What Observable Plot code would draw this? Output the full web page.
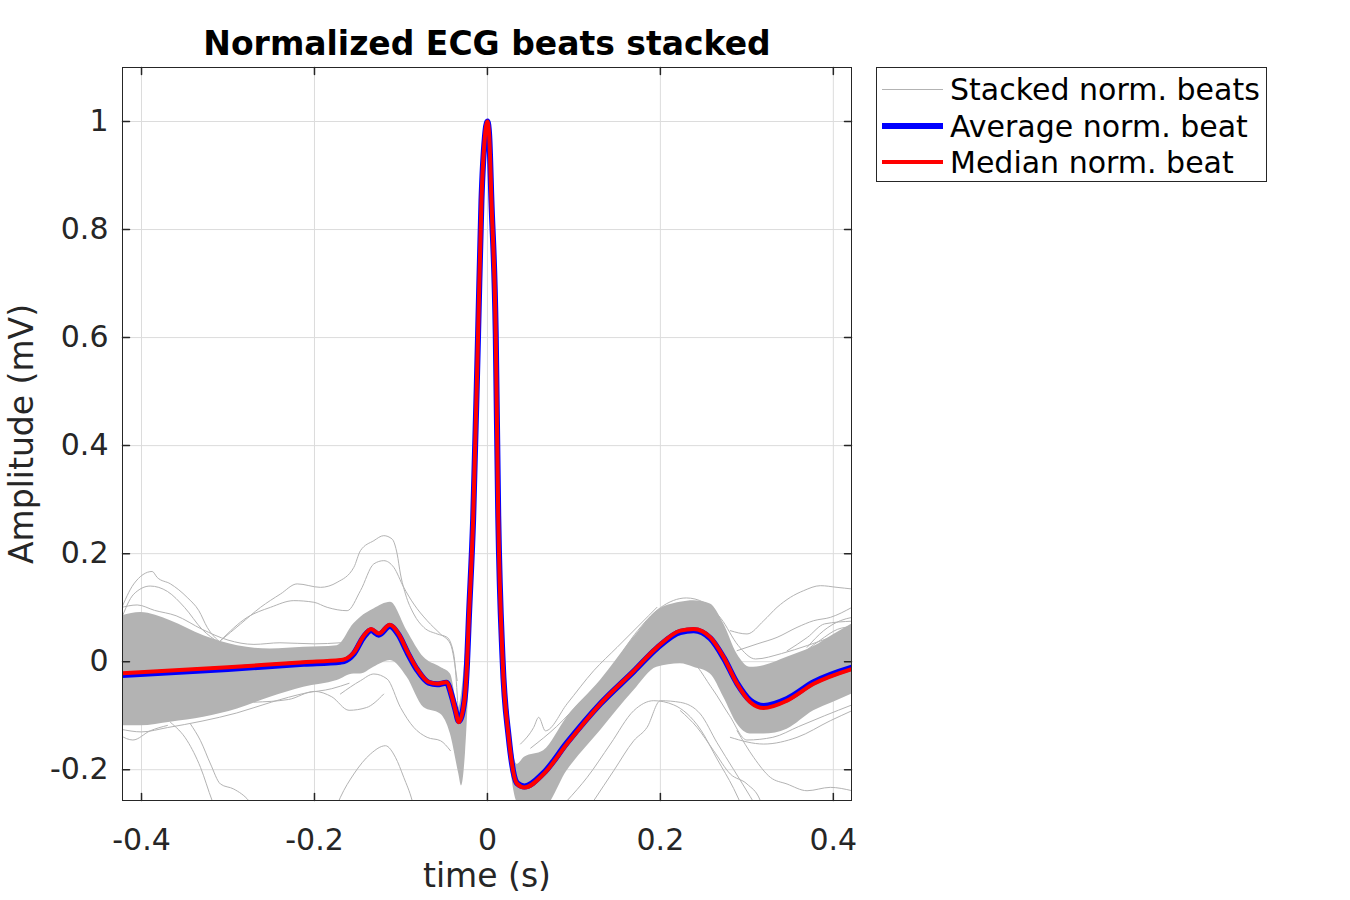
<!DOCTYPE html>
<html>
<head>
<meta charset="utf-8">
<script src="https://cdn.jsdelivr.net/npm/d3@7"></script>
<script src="https://cdn.jsdelivr.net/npm/@observablehq/plot@0.6"></script>
<style>
  body { margin: 0; background: white; }
  #wrap { position: relative; width: 1350px; height: 900px; font-family: "DejaVu Sans", sans-serif; }
  #title { position: absolute; left: 0; width: 974px; top: 27px; text-align: center; font-weight: bold; font-size: 33px; line-height: 33px; color: #000; }
  #legend { position: absolute; left: 876px; top: 67px; width: 389px; height: 113px; border: 1px solid #262626; background: white; }
  .row { position: absolute; left: 0; height: 36px; display: flex; align-items: center; font-size: 30px; color: #000; white-space: nowrap; }
  .sample { display: inline-block; width: 61px; margin-left: 5px; margin-right: 7px; }
  #chart { position: absolute; left: 0; top: 0; }
</style>
</head>
<body>
<div id="wrap">
  <div id="chart"></div>
  <div id="title">Normalized ECG beats stacked</div>
  <div id="legend"></div>
</div>
<script>
// ---- Data ----
const titleText = "Normalized ECG beats stacked";
const xLabel = "time (s)";
const yLabel = "Amplitude (mV)";
const xTicks = [-0.4, -0.2, 0, 0.2, 0.4];
const yTicks = [-0.2, 0, 0.2, 0.4, 0.6, 0.8, 1];

const seriesNames = ["Stacked norm. beats", "Average norm. beat", "Median norm. beat"];
const seriesColors = ["#b3b3b3", "#0000ff", "#ff0000"];

// main beat time samples (s)
const beatT = [-0.422, -0.3, -0.2124, -0.17, -0.166, -0.1545, -0.143, -0.1345, -0.1257, -0.1129, -0.1025,
  -0.0929, -0.0813, -0.0679, -0.0582, -0.0474, -0.0408, -0.037, -0.0331, -0.0266, -0.0235, -0.0216, -0.0165,
  -0.0108, -0.0069, -0.003, 0, 0.002, 0.0046, 0.0096, 0.0125, 0.0175, 0.0246, 0.0343, 0.0428, 0.065, 0.0921,
  0.1306, 0.1692, 0.196, 0.2231, 0.2385, 0.2578, 0.2732, 0.2887, 0.304, 0.3195, 0.3465, 0.3773, 0.4216];
// median normalized beat (mV)
const medianV = [-0.0216, -0.0105, -0.001, 0.003, 0.004, 0.017, 0.048, 0.0605, 0.052, 0.0685, 0.051,
  0.02, -0.0136, -0.038, -0.041, -0.038, -0.066, -0.09, -0.112, -0.072, 0.0, 0.076, 0.265,
  0.607, 0.854, 0.97, 1.0, 0.975, 0.854, 0.607, 0.27, 0.005, -0.14, -0.226, -0.233, -0.208, -0.152,
  -0.078, -0.017, 0.0265, 0.0574, 0.0605, 0.045, 0.008, -0.041, -0.075, -0.0858, -0.072, -0.041, -0.0136];
// average normalized beat (mV)
const meanV = [-0.0245, -0.0135, -0.004, 0.0, 0.001, 0.015, 0.046, 0.058, 0.05, 0.066, 0.049,
  0.018, -0.015, -0.039, -0.042, -0.039, -0.066, -0.089, -0.11, -0.072, 0.0, 0.076, 0.265,
  0.607, 0.854, 0.97, 1.0, 0.975, 0.854, 0.607, 0.27, 0.005, -0.14, -0.225, -0.231, -0.206, -0.15,
  -0.078, -0.018, 0.025, 0.055, 0.058, 0.043, 0.007, -0.04, -0.072, -0.082, -0.069, -0.038, -0.011];

// dense envelope of the stacked beats
const bandT = [-0.422, -0.401, -0.3665, -0.328, -0.289, -0.2509, -0.2124, -0.1738, -0.1545, -0.1468, -0.1314,
  -0.1121, -0.0929, -0.0736, -0.0543, -0.0428, -0.0331, -0.03, -0.0254, -0.0216, -0.0165, -0.0108, -0.0069,
  -0.003, 0, 0.002, 0.0046, 0.0096, 0.0125, 0.0175, 0.0246, 0.0343, 0.0428, 0.065, 0.0921, 0.1306, 0.1692,
  0.196, 0.2231, 0.2385, 0.2578, 0.2732, 0.2887, 0.304, 0.3195, 0.3465, 0.3773, 0.4, 0.4216];
const bandLo = [-0.1185, -0.1185, -0.112, -0.103, -0.0876, -0.066, -0.0475, -0.035, -0.023, -0.023, -0.0105,
  0.002, -0.029, -0.085, -0.097, -0.134, -0.208, -0.23, -0.17, -0.05, 0.2, 0.55, 0.82,
  0.94, 0.96, 0.94, 0.84, 0.6, 0.27, 0.0, -0.16, -0.26, -0.27, -0.27, -0.202, -0.128, -0.054,
  -0.0105, -0.004, -0.0105, -0.023, -0.066, -0.115, -0.134, -0.134, -0.125, -0.091, -0.075, -0.06];
const bandHi = [0.085, 0.091, 0.076, 0.048, 0.0296, 0.0235, 0.0265, 0.0296, 0.07, 0.082, 0.0975,
  0.11, 0.057, 0.008, -0.0105, -0.023, -0.085, -0.06, 0.015, 0.09, 0.3, 0.63, 0.87,
  0.98, 1.0, 0.985, 0.89, 0.68, 0.36, 0.08, -0.09, -0.19, -0.177, -0.165, -0.103, -0.035, 0.045,
  0.094, 0.11, 0.113, 0.107, 0.07, 0.014, -0.0105, -0.0074, 0.008, 0.028, 0.05, 0.07];

// individual beats visible outside / along the dense envelope: [t, v]
const outlierA = [[-0.4243, 0.0944], [-0.4089, 0.144], [-0.3877, 0.167], [-0.3819, 0.156], [-0.3665, 0.144], [-0.3472, 0.119], [-0.3337, 0.0944], [-0.324, 0.0635], [-0.3087, 0.0358], [-0.2971, 0.0265]];
const outlierB = [[-0.4243, 0.075], [-0.409, 0.125], [-0.39, 0.14], [-0.37, 0.13], [-0.35, 0.1], [-0.33, 0.06], [-0.31, 0.035]];
const outlierC = [[-0.3087, 0.0389], [-0.2855, 0.0698], [-0.2624, 0.1006], [-0.2393, 0.1253], [-0.22, 0.144], [-0.1931, 0.1376], [-0.1738, 0.1469], [-0.1545, 0.1746], [-0.1468, 0.2056], [-0.1314, 0.224], [-0.1199, 0.2333], [-0.1102, 0.227], [-0.1044, 0.1994], [-0.1006, 0.1624], [-0.0948, 0.1254], [-0.0852, 0.0883], [-0.0736, 0.0635], [-0.0582, 0.0513], [-0.0466, 0.045], [-0.039, 0.0142], [-0.035, -0.0598], [-0.0312, -0.171]];
const outlierD = [[-0.3087, 0.0389], [-0.2778, 0.082], [-0.2509, 0.1006], [-0.2239, 0.113], [-0.2008, 0.11], [-0.1853, 0.1006], [-0.1622, 0.0944], [-0.1468, 0.1315], [-0.1314, 0.181], [-0.1199, 0.187], [-0.1083, 0.1746], [-0.0968, 0.1376], [-0.0852, 0.1068], [-0.0697, 0.0759], [-0.0543, 0.0513], [-0.0428, 0.0328], [-0.035, -0.035]];
const outlierE = [[-0.3665, -0.1124], [-0.3472, -0.1463], [-0.3318, -0.1957], [-0.3183, -0.2574], [-0.31, -0.29]];
const outlierF = [[-0.3434, -0.1154], [-0.3318, -0.1463], [-0.3202, -0.1895], [-0.3087, -0.2265], [-0.2933, -0.2358], [-0.2759, -0.2574], [-0.27, -0.27]];
const outlierG = [[-0.4243, -0.137], [-0.41, -0.145], [-0.39, -0.128], [-0.37, -0.118]];
const outlierH = [[-0.18, -0.29], [-0.17, -0.251], [-0.1545, -0.208], [-0.1353, -0.171], [-0.1179, -0.1556], [-0.1064, -0.177], [-0.0968, -0.214], [-0.087, -0.2574], [-0.082, -0.29]];
const outlierI = [[-0.17, -0.0598], [-0.1468, -0.0352], [-0.1314, -0.0228], [-0.116, -0.032], [-0.1006, -0.0846], [-0.0852, -0.1216], [-0.0697, -0.1401], [-0.0543, -0.1463], [-0.0428, -0.1648]];
const outlierJ = [[-0.27, -0.075], [-0.23, -0.07], [-0.2, -0.055], [-0.18, -0.065], [-0.16, -0.09], [-0.14, -0.085], [-0.12, -0.06]];
const outlierK = [[0.0382, -0.1525], [0.0535, -0.1216], [0.0593, -0.103], [0.067, -0.128], [0.0921, -0.078], [0.1229, -0.0167], [0.1499, 0.0265], [0.1769, 0.0698], [0.196, 0.1006]];
const outlierL = [[0.0921, -0.2574], [0.1153, -0.2142], [0.1422, -0.1525], [0.1692, -0.0907], [0.1923, -0.0722], [0.2154, -0.08], [0.2462, -0.125], [0.2655, -0.18], [0.2848, -0.235], [0.295, -0.27]];
const outlierM = [[0.1229, -0.2574], [0.146, -0.2019], [0.1692, -0.1463], [0.1846, -0.1216], [0.2, -0.0722], [0.2231, -0.0753], [0.2462, -0.0968], [0.2655, -0.15], [0.2848, -0.2], [0.304, -0.25], [0.315, -0.28]];
const outlierN = [[0.2809, 0.0574], [0.3002, 0.0513], [0.3195, 0.0759], [0.3349, 0.1006], [0.3503, 0.1191], [0.3657, 0.1315], [0.385, 0.1407], [0.4043, 0.1376], [0.4216, 0.1346]];
const outlierO = [[0.2887, 0.0204], [0.3118, 0.0328], [0.3349, 0.045], [0.358, 0.0635], [0.3773, 0.0759], [0.3965, 0.082], [0.4216, 0.1006]];
const outlierP = [[0.3696, 0.0265], [0.3888, 0.0574], [0.4081, 0.0759], [0.4216, 0.082]];
const outlierQ = [[0.3465, 0.02], [0.37, 0.045], [0.39, 0.07], [0.4216, 0.075]];
const outlierR = [[0.36, 0.01], [0.385, 0.04], [0.405, 0.06], [0.4216, 0.065]];
const outlierS = [[0.2231, -0.0907], [0.2424, -0.1216], [0.2616, -0.1648], [0.2809, -0.208], [0.3002, -0.2265], [0.3156, -0.2574], [0.32, -0.28]];
const outlierT = [[0.2887, -0.1278], [0.3079, -0.1772], [0.3272, -0.2142], [0.3465, -0.2265], [0.3696, -0.2389], [0.3965, -0.2327], [0.4216, -0.2389]];
const outlierU = [[0.2809, -0.1401], [0.3195, -0.1525], [0.358, -0.1401], [0.3965, -0.1093], [0.4216, -0.0907]];
const outlierV = [[-0.4243, 0.1], [-0.405, 0.105], [-0.385, 0.095], [-0.36, 0.085], [-0.33, 0.06], [-0.3, 0.04], [-0.27, 0.032], [-0.24, 0.035], [-0.2, 0.033], [-0.17, 0.035]];
const outlierW = [[-0.4243, -0.125], [-0.4, -0.13], [-0.37, -0.122], [-0.33, -0.11], [-0.29, -0.095], [-0.25, -0.075], [-0.21, -0.058], [-0.18, -0.05], [-0.16, -0.04]];
const outlierX = [[0.05, -0.2], [0.08, -0.175], [0.11, -0.13], [0.14, -0.08], [0.17, -0.03], [0.2, 0.0], [0.23, 0.005], [0.26, -0.05], [0.28, -0.1], [0.3, -0.145], [0.33, -0.14], [0.36, -0.12], [0.39, -0.1], [0.4216, -0.08]];
const outlierY = [[0.05, -0.16], [0.08, -0.12], [0.11, -0.07], [0.14, -0.02], [0.17, 0.05], [0.2, 0.1], [0.23, 0.118], [0.25, 0.11], [0.27, 0.08], [0.29, 0.03], [0.31, 0.005], [0.34, 0.015], [0.37, 0.03], [0.4216, 0.06]];

// ---- Build tables ----
const outliers = [outlierA, outlierB, outlierC, outlierD, outlierE, outlierF, outlierG, outlierH, outlierI, outlierJ,
  outlierK, outlierL, outlierM, outlierN, outlierO, outlierP, outlierQ, outlierR, outlierS, outlierT, outlierU,
  outlierV, outlierW, outlierX, outlierY];
const outlierRows = outliers.flatMap((pts, id) => pts.map(([t, v]) => ({id, t, v})));
const bandRows = bandT.map((t, i) => ({t, lo: bandLo[i], hi: bandHi[i]}));
const medianRows = beatT.map((t, i) => ({t, v: medianV[i]}));
const meanRows = beatT.map((t, i) => ({t, v: meanV[i]}));

const tickShape = { draw(context, l) { context.moveTo(0, 0); context.lineTo(0, -l); } };
const ink = "#262626";
const fmt = d => String(d);

const chart = Plot.plot({
  width: 1350,
  height: 900,
  marginLeft: 122,
  marginRight: 499,
  marginTop: 67,
  marginBottom: 100,
  style: { fontFamily: "DejaVu Sans", fontSize: "30px", color: ink, background: "white", overflow: "visible" },
  x: { domain: [-0.422, 0.421] },
  y: { domain: [-0.257, 1.1] },
  marks: [
    Plot.gridX(xTicks, { stroke: "#dcdcdc", strokeOpacity: 1 }),
    Plot.gridY(yTicks, { stroke: "#dcdcdc", strokeOpacity: 1 }),
    Plot.areaY(bandRows, { x: "t", y1: "lo", y2: "hi", fill: seriesColors[0], curve: "monotone-x", clip: true }),
    Plot.line(outlierRows, { x: "t", y: "v", z: "id", stroke: seriesColors[0], strokeWidth: 1, curve: "monotone-x", clip: true }),
    Plot.line(meanRows, { x: "t", y: "v", stroke: seriesColors[1], strokeWidth: 6, curve: "monotone-x", clip: true }),
    Plot.line(medianRows, { x: "t", y: "v", stroke: seriesColors[2], strokeWidth: 4, curve: "monotone-x", clip: true }),
    Plot.frame({ stroke: ink, strokeWidth: 1 }),
    Plot.vector(xTicks, { x: d => d, frameAnchor: "bottom", rotate: 0, length: 7, anchor: "start", shape: tickShape, stroke: ink }),
    Plot.vector(xTicks, { x: d => d, frameAnchor: "top", rotate: 180, length: 7, anchor: "start", shape: tickShape, stroke: ink }),
    Plot.vector(yTicks, { y: d => d, frameAnchor: "left", rotate: 90, length: 7, anchor: "start", shape: tickShape, stroke: ink }),
    Plot.vector(yTicks, { y: d => d, frameAnchor: "right", rotate: -90, length: 7, anchor: "start", shape: tickShape, stroke: ink }),
    Plot.axisX(xTicks, { tickSize: 0, tickPadding: 28, tickFormat: fmt, fontSize: 30, fill: ink, label: null }),
    Plot.axisY(yTicks, { tickSize: 0, tickPadding: 14, tickFormat: fmt, fontSize: 30, fill: ink, label: null }),
    Plot.text([xLabel], { frameAnchor: "bottom", dy: 76, fontSize: 33, fill: ink, textAnchor: "middle", lineAnchor: "middle", text: d => d }),
    Plot.text([yLabel], { frameAnchor: "left", dx: -100, rotate: -90, fontSize: 33, fill: ink, textAnchor: "middle", lineAnchor: "middle", text: d => d })
  ]
});
document.getElementById("chart").appendChild(chart);
document.getElementById("title").textContent = titleText;

// legend
const legend = document.getElementById("legend");
const rowCenters = [21, 58, 94];
const sampleWidths = [1, 6, 4];
seriesNames.forEach((name, i) => {
  const row = document.createElement("div");
  row.className = "row";
  row.style.top = (rowCenters[i] - 18) + "px";
  const s = document.createElement("span");
  s.className = "sample";
  s.style.height = sampleWidths[i] + "px";
  s.style.background = seriesColors[i];
  const t = document.createElement("span");
  t.textContent = name;
  row.appendChild(s);
  row.appendChild(t);
  legend.appendChild(row);
});
</script>
</body>
</html>
